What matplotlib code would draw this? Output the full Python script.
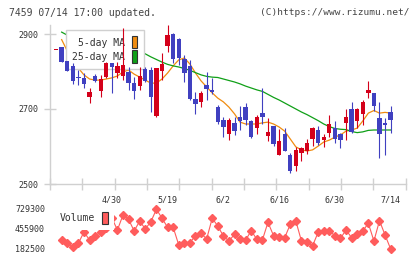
import numpy as np
import matplotlib.pyplot as plt
from matplotlib.patches import Patch
from matplotlib.ticker import FixedLocator

title = "7459 07/14 17:00 updated."
credit = "(C)https://www.rizumu.net/"

# x labels sit on candle index 10, 20, ... (0 based)
date_labels = ["4/30", "5/19", "6/2", "6/16", "6/30", "7/14"]
date_pos = [10, 20, 30, 40, 50, 60]

opens = [2857, 2865, 2829, 2815, 2786, 2782, 2733, 2788, 2749, 2786,
         2822, 2797, 2788, 2800, 2770, 2762, 2806, 2804, 2681, 2802,
         2869, 2900, 2886, 2833, 2815, 2727, 2720, 2764, 2751, 2705,
         2671, 2633, 2664, 2678, 2706, 2668, 2649, 2690, 2628, 2655,
         2577, 2633, 2577, 2548, 2584, 2589, 2619, 2644, 2617, 2636,
         2649, 2633, 2664, 2699, 2669, 2687, 2742, 2742, 2675, 2664,
         2691]
highs = [2858, 2865, 2829, 2822, 2804, 2795, 2755, 2793, 2791, 2826,
         2822, 2826, 2915, 2813, 2786, 2813, 2813, 2813, 2810, 2850,
         2923, 2904, 2889, 2844, 2831, 2746, 2749, 2800, 2782, 2711,
         2680, 2675, 2680, 2708, 2717, 2671, 2684, 2755, 2675, 2655,
         2646, 2649, 2582, 2598, 2598, 2619, 2653, 2655, 2633, 2684,
         2668, 2637, 2699, 2720, 2702, 2724, 2775, 2742, 2720, 2675,
         2708]
lows = [2857, 2826, 2802, 2768, 2764, 2755, 2715, 2772, 2733, 2782,
        2742, 2782, 2777, 2751, 2727, 2751, 2772, 2693, 2680, 2777,
        2853, 2822, 2817, 2773, 2724, 2687, 2705, 2724, 2740, 2660,
        2626, 2617, 2631, 2644, 2657, 2622, 2633, 2660, 2616, 2601,
        2577, 2589, 2529, 2536, 2562, 2580, 2601, 2604, 2600, 2625,
        2610, 2595, 2617, 2637, 2649, 2657, 2729, 2695, 2569, 2577,
        2637]
closes = [2858, 2826, 2802, 2776, 2782, 2767, 2746, 2776, 2779, 2822,
          2813, 2815, 2817, 2770, 2749, 2788, 2776, 2731, 2809, 2820,
          2897, 2833, 2835, 2795, 2728, 2713, 2742, 2753, 2746, 2665,
          2653, 2671, 2642, 2669, 2671, 2626, 2678, 2680, 2639, 2607,
          2616, 2589, 2536, 2591, 2595, 2609, 2649, 2610, 2625, 2660,
          2620, 2617, 2678, 2640, 2699, 2720, 2751, 2708, 2633, 2657,
          2671]

ma5 = [np.nan, 2885, 2855, 2825, 2809, 2791, 2780, 2777, 2777, 2780,
       2783, 2788, 2799, 2804, 2793, 2785, 2777, 2769, 2769, 2780,
       2796, 2815, 2831, 2836, 2820, 2796, 2775, 2759, 2743, 2729,
       2719, 2705, 2687, 2665, 2660, 2660, 2660, 2663, 2665, 2660,
       2652, 2641, 2620, 2599, 2591, 2588, 2591, 2601, 2612, 2617,
       2625, 2631, 2641, 2644, 2649, 2668, 2689, 2696, 2689, 2691,
       2689]
ma25 = [np.nan, 2905, 2897, 2893, 2891, 2888, 2885, 2883, 2880, 2877,
        2875, 2872, 2868, 2864, 2860, 2855, 2847, 2839, 2832, 2825,
        2819, 2815, 2812, 2808, 2803, 2797, 2791, 2787, 2785, 2784,
        2780, 2776, 2772, 2767, 2761, 2756, 2751, 2747, 2739, 2731,
        2724, 2716, 2708, 2700, 2692, 2685, 2677, 2669, 2660, 2653,
        2648, 2646, 2645, 2640, 2637, 2639, 2643, 2644, 2644, 2644,
        2644]

volume = [np.nan, 305500, 260400, 205700, 260400, 414900, 305500, 360200, 414900, 469600,
          606300, 442200, 647300, 588500, 428600, 565300, 455900, 555700, 725200, 602200,
          479100, 479100, 237200, 268600, 268600, 364300, 397100, 319200, 602200, 496900,
          360200, 291900, 383500, 319200, 305500, 432700, 315100, 305500, 547500, 364300,
          342400, 337000, 520200, 565300, 291900, 274100, 227600, 410800, 428600, 428600,
          364300, 328800, 442200, 337000, 383500, 428600, 533800, 291900, 569400, 373900,
          182500]
vol_ticks = [182500, 455900, 729300]

RED = '#d4001a'
BLUE = '#4040c0'
ORANGE = '#f08c10'
GREEN = '#10a018'
PINK = '#ff5c5c'
GRID = '#d0d0d0'
TXT = '#333333'
MONO = 'DejaVu Sans Mono'

fig = plt.figure(figsize=(4.2, 2.59), dpi=100)
ax = fig.add_axes([50 / 420, 75 / 259, 355.7 / 420, 159 / 259])
axv = fig.add_axes([50 / 420, 4 / 259, 355.7 / 420, 52 / 259])

o = np.array(opens, float)
h = np.array(highs, float)
l = np.array(lows, float)
c = np.array(closes, float)
idx = np.arange(len(c))
cols = np.where(c >= o, RED, BLUE)

# moving averages under the legend box, candles above it
ax.plot(idx, ma5, color=ORANGE, lw=0.9, zorder=2)
ax.plot(idx, ma25, color=GREEN, lw=0.9, zorder=2)
ax.vlines(idx, l, h, colors=cols, lw=0.8, zorder=6)
body = np.maximum(np.abs(c - o), 2.5)
ax.bar(idx, body, bottom=np.minimum(o, c), width=0.78, color=cols, lw=0, zorder=7)

x0, x1 = -1.09, 62.7
ax.set_xlim(x0, x1)
ax.set_ylim(2500, 2924)
for s in ['top', 'right']:
    ax.spines[s].set_visible(False)
for s in ['left', 'bottom']:
    ax.spines[s].set_color(GRID)
    ax.spines[s].set_linewidth(1)

ax.set_yticks([2500, 2700, 2900])
ax.tick_params(axis='y', direction='inout', length=8, width=1, color=GRID,
               labelsize=6, labelcolor=TXT, pad=4)
ax.xaxis.set_major_locator(FixedLocator(date_pos))
ax.set_xticklabels(date_labels)
ax.xaxis.set_minor_locator(FixedLocator(np.linspace(x0, x1, 12)))
ax.tick_params(axis='x', which='major', length=0, pad=8, labelsize=6, labelcolor=TXT)
ax.tick_params(axis='x', which='minor', direction='inout', length=8, width=1, color=GRID)
for t in ax.get_xticklabels() + ax.get_yticklabels():
    t.set_family(MONO)

leg = ax.legend(handles=[Patch(facecolor=ORANGE, edgecolor=TXT, lw=0.8, label='5-day MA'),
                         Patch(facecolor=GREEN, edgecolor=TXT, lw=0.8, label='25-day MA')],
                loc='upper left', bbox_to_anchor=(0.044, 0.969), borderaxespad=0,
                markerfirst=False, prop={'family': MONO, 'size': 7}, labelcolor=TXT,
                handlelength=0.6, handleheight=1.55, handletextpad=0.7, labelspacing=0.2,
                borderpad=0.65, fancybox=False, framealpha=1, edgecolor=GRID)
leg.get_frame().set_linewidth(1)
leg.set_zorder(5)

# volume panel
axv.plot(idx, volume, color=PINK, lw=0.8, marker='D', markersize=3.8, zorder=2, clip_on=False)
axv.set_xlim(x0, x1)
axv.set_ylim(100480, 811320)
for s in axv.spines.values():
    s.set_visible(False)
axv.set_xticks([])
axv.set_yticks(vol_ticks)
axv.set_yticklabels([str(v) for v in vol_ticks])
axv.tick_params(axis='y', length=0, pad=3.6, labelsize=6, labelcolor=TXT)
for t in axv.get_yticklabels():
    t.set_family(MONO)
vleg = axv.legend(handles=[Patch(facecolor=PINK, edgecolor=TXT, lw=0.8, label='Volume')],
                  loc='upper left', bbox_to_anchor=(0.0104, 0.956), borderaxespad=0,
                  markerfirst=False, prop={'family': MONO, 'size': 7}, labelcolor=TXT,
                  handlelength=0.6, handleheight=1.55, handletextpad=0.7,
                  borderpad=0.65, fancybox=False, framealpha=1, edgecolor='none')
vleg.set_zorder(5)

fig.text(9.3 / 420, 1 - 12.5 / 259, title, ha='left', va='center', fontsize=7,
         family=MONO, color='#444444')
fig.text(409 / 420, 1 - 12.5 / 259, credit, ha='right', va='center', fontsize=6.8,
         family=MONO, color='#444444')

fig.savefig('out.png', dpi=100)
